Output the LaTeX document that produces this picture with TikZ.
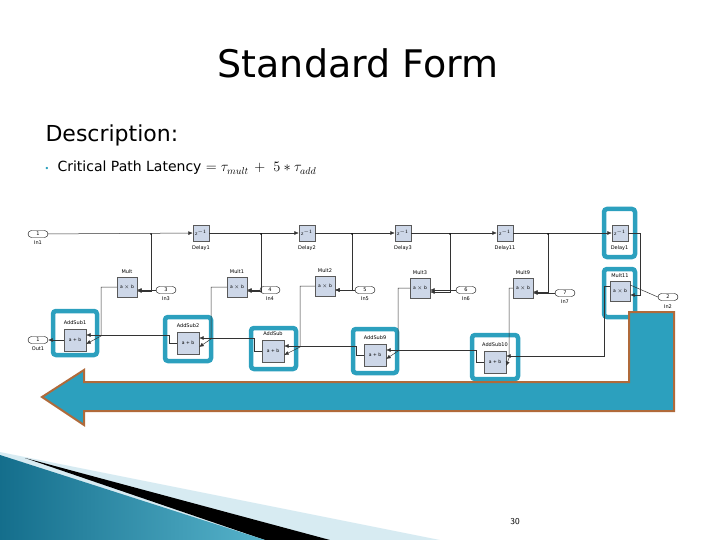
\documentclass[tikz,border=0pt]{standalone}
\usepackage{fontspec}
\setmainfont{DejaVu Sans}
\newfontfamily\ttl{DejaVu Sans}
\usetikzlibrary{arrows.meta,shapes.misc}
\definecolor{frm}{RGB}{44,160,190}
\definecolor{brn}{RGB}{176,106,58}
\definecolor{blk}{RGB}{205,215,232}
\definecolor{dteal}{RGB}{20,110,140}
\definecolor{lteal}{RGB}{215,235,242}
\begin{document}
\begin{tikzpicture}[x=1pt,y=-1pt,
  blkst/.style={draw=gray!70!black,fill=blk,line width=0.4pt,inner sep=0pt,font=\fontsize{4.5}{5}\selectfont},
  dly/.style={blkst,minimum size=16pt},
  mul/.style={blkst,minimum size=20pt},
  add/.style={blkst,minimum size=22pt},
  port/.style={draw,rounded rectangle,minimum width=20pt,minimum height=7pt,inner sep=0pt,font=\fontsize{5}{5}\selectfont,fill=white},
  lab/.style={font=\fontsize{5}{5}\selectfont},
  wire/.style={draw=black!80,line width=0.5pt},
  arr/.style={wire,-{Latex[length=4.5pt,width=4pt]}},
  fr/.style={draw=frm,line width=4.5pt,rounded corners=3pt}]
\useasboundingbox (0,0) rectangle (720,540);
% bottom decoration
\fill[lteal] (0,452) -- (440,540) -- (0,540) -- cycle;
\fill[black] (25,458) -- (330,540) -- (265,540) -- cycle;
\shade[left color=dteal,right color=frm!80] (0,455) -- (265,540) -- (0,540) -- cycle;
\node[font=\fontsize{9}{9}\selectfont\sffamily] (pg) at (515,522) {30};
% texts
\node[font=\ttl\fontsize{38}{40}\selectfont] (title) at (358,63) {Standard Form};
\node[anchor=west,font=\fontsize{22}{24}\selectfont] (desc) at (42,135) {Description:};
\node[text=frm,font=\fontsize{8}{8}\selectfont] (bul) at (47,169) {•};
\node[anchor=west,font=\fontsize{14}{14}\selectfont] (cp) at (54,168) {Critical Path Latency $=\tau_{mult}\,+\,\,5*\tau_{add}$};
% frames
\draw[fr] (53,311) rectangle (97,355);
\draw[fr] (165,317) rectangle (211,361);
\draw[fr] (251,328) rectangle (296,369);
\draw[fr] (353,329) rectangle (397,373);
\draw[fr] (472,335) rectangle (518,379);
\draw[fr] (604,209) rectangle (635,257);
\draw[fr] (604,269) rectangle (635,317);
% ports
\node[port] (in1) at (38,234) {1}; \node[lab] (in1l) at (38,243) {In1};
\node[port] (out1) at (38,340) {1}; \node[lab] (out1l) at (38,349) {Out1};
\node[port] (in3) at (166,290) {3}; \node[lab] (in3l) at (166,299) {In3};
\node[port] (in4) at (270,290) {4}; \node[lab] (in4l) at (270,299) {In4};
\node[port] (in5) at (365,290) {5}; \node[lab] (in5l) at (365,299) {In5};
\node[port] (in6) at (466,290) {6}; \node[lab] (in6l) at (466,299) {In6};
\node[port] (in7) at (565,293) {7}; \node[lab] (in7l) at (565,302) {In7};
\node[port] (in2) at (668,297) {2}; \node[lab] (in2l) at (668,307) {In2};
% delays
\foreach \n/\x/\t in {d1/201/Delay1,d2/307/Delay2,d3/403/Delay3,d4/505/Delay11,d5/620/Delay1\,}{
  \node[dly] (\n) at (\x,233) {z$^{-1}$};
  \node[lab] (\n l) at (\x,248) {\t};}
% mults
\foreach \n/\x/\y/\t in {m0/127/287/Mult,m1/237/287/Mult1,m2/325/286/Mult2,m3/420/288/Mult3,m9/523/288/Mult9,m11/620/291/Mult11}{
  \node[mul] (\n) at (\x,\y) {a $\times$ b};
  \node[lab] (\n l) at (\x,\y-15) {\t};}
% addsubs
\foreach \n/\x/\y/\t in {a1/75/340/AddSub1,a2/188/343/AddSub2,a0/273/351/AddSub,a9/375/355/AddSub9,a10/495/362/AddSub10}{
  \node[add] (\n) at (\x,\y) {a + b};
  \node[lab] (\n l) at (\x,\y-17) {\t};}
% top chain
\draw[arr] (in1) -- (d1);
\draw[arr] (d1) -- (d2);
\draw[arr] (d2) -- (d3);
\draw[arr] (d3) -- (d4);
\draw[arr] (d4) -- (d5);
\draw[arr] (d5.east) -- ++(12,0) |- ([yshift=-4pt]m11.east);
% branches to mult a
\foreach \m/\bx in {m0/151,m1/261,m2/352,m3/450,m9/548}{
  \draw[arr] (\bx,234) |- ([yshift=-4pt]\m.east);
  \fill (\bx,234) circle (0.9pt);}
% In ports to mult b
\foreach \i/\m in {in3/m0,in4/m1,in5/m2,in6/m3,in7/m9}{
  \draw[arr] (\i.west) -- (\i.west -| \m.east);}
% mult out to addsub a
\draw[arr] (m0.west) -| (101,336) -- ([yshift=-4pt]a1.east);
\draw[arr] (m1.west) -| (211,339) -- ([yshift=-4pt]a2.east);
\draw[arr] (m2.west) -| (300,347) -- ([yshift=-4pt]a0.east);
\draw[arr] (m3.west) -| (398,351) -- ([yshift=-4pt]a9.east);
\draw[arr] (m9.west) -| (509,358) -- ([yshift=-4pt]a10.east);
% addsub chain b
\draw[arr] (a2.west) -- ++(-8,0) |- ([yshift=5pt]a1.east);
\draw[arr] (a0.west) -- ++(-8,0) |- ([yshift=5pt]a2.east);
\draw[arr] (a9.west) -- ++(-8,0) |- ([yshift=5pt]a0.east);
\draw[arr] (a10.west) -- ++(-8,0) |- ([yshift=5pt]a9.east);
\draw[arr] ([yshift=5pt]m11.west) -- ++(-6,0) |- ([yshift=6pt]a10.east);
\draw[wire] ([yshift=6pt]m11.east) -- (in2.west);
\draw[arr] (a1.west) -- (out1.east);
% big arrow
\draw[fill=frm,draw=brn,line width=2pt,line join=miter] (674,312) -- (674,411) -- (84,411) -- (84,425) -- (42,397) -- (84,370) -- (84,382) -- (629,382) -- (629,312) -- cycle;
\end{tikzpicture}
\end{document}
